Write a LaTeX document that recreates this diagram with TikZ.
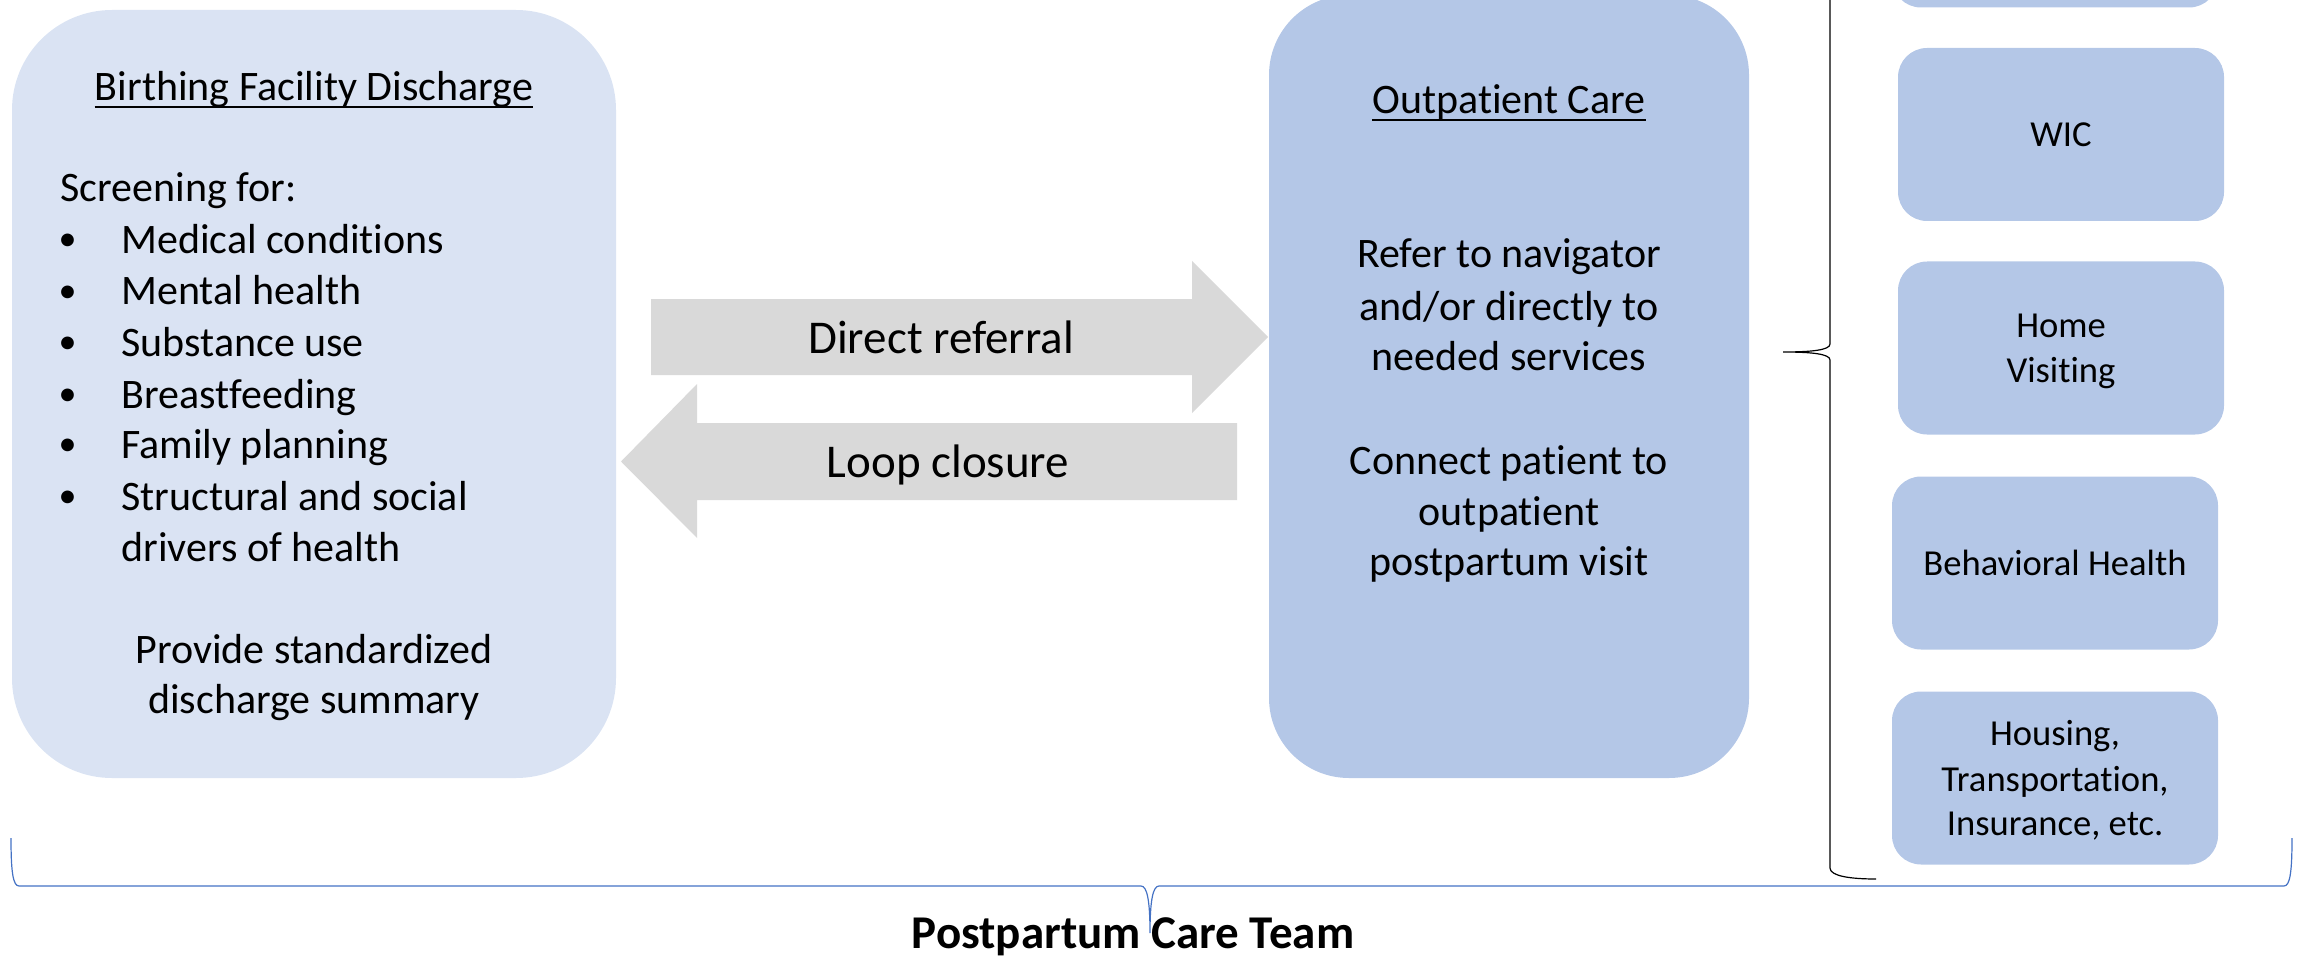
\documentclass[tikz,border=0pt]{standalone}
\usepackage{fontspec}
\setmainfont{Carlito}[Ligatures=NoCommon]
\definecolor{lightbox}{HTML}{DAE3F3}
\definecolor{medbox}{HTML}{B4C7E7}
\definecolor{arrowgray}{HTML}{D9D9D9}
\definecolor{braceblue}{HTML}{4472C4}
\begin{document}
\begin{tikzpicture}[x=0.5pt,y=-0.5pt,
  bigbox/.style={draw=none, fill=lightbox, rounded corners=50pt, inner sep=0, minimum width=302pt, minimum height=384pt},
  opbox/.style={draw=none, fill=medbox, rounded corners=40pt, inner sep=0, minimum width=240pt, minimum height=391.5pt},
  svcbox/.style={draw=none, fill=medbox, rounded corners=14.5pt, inner sep=0, minimum width=163pt, minimum height=86.5pt},
  blockarrow/.style={fill=arrowgray, draw=none},
  maintxt/.style={inner sep=0, anchor=base, font=\fontsize{21}{25.6}\selectfont},
  lefttxt/.style={maintxt, anchor=base west},
  bullettxt/.style={inner sep=0, anchor=base, font=\fontsize{18}{18}\selectfont},
  ulpen/.style={line width=1.2pt},
  arrtxt/.style={inner sep=0, anchor=base, font=\fontsize{23.5}{28}\selectfont},
  svctxt/.style={inner sep=0, anchor=base, font=\fontsize{18.3}{22}\selectfont},
  teamtxt/.style={inner sep=0, anchor=base, font=\fontsize{23.5}{28}\selectfont\bfseries},
  bracepen/.style={line width=0.6pt},
]
\useasboundingbox (0,0) rectangle (2301,957);
\clip (0,0) rectangle (2301,957);

% Birthing facility box
\node[bigbox] (bfd) at (314,394) {};
\node[maintxt] (bfdtitle) at (314,101) {Birthing Facility Discharge};
\draw[ulpen] ([yshift=-3pt]bfdtitle.base west) -- ([yshift=-3pt]bfdtitle.base east);
\node[lefttxt] (scr) at (60,201.5) {Screening for:};
\foreach \y/\t [count=\i] in {253.6/Medical conditions, 305/Mental health, 356/Substance use, 408/Breastfeeding, 458/Family planning, 510/Structural and social}{
  \node[bullettxt] (bul\i) at (67.5,\y-3) {•};
  \node[lefttxt] (item\i) at (121,\y) {\t};
}
\node[lefttxt] (item7) at (121,561) {drivers of health};
\node[maintxt] (prov1) at (314,663) {Provide standardized};
\node[maintxt] (prov2) at (314,713) {discharge summary};

% Outpatient box
\node[opbox] (opc) at (1509,386.5) {};
\node[maintxt] (opctitle) at (1509,114) {Outpatient Care};
\draw[ulpen] ([yshift=-3pt]opctitle.base west) -- ([yshift=-3pt]opctitle.base east);
\node[maintxt] (op1) at (1509,268) {Refer to navigator};
\node[maintxt] (op2) at (1509,320) {and/or directly to};
\node[maintxt] (op3) at (1509,370) {needed services};
\node[maintxt] (op4) at (1509,474) {Connect patient to};
\node[maintxt] (op5) at (1509,525) {outpatient};
\node[maintxt] (op6) at (1509,575) {postpartum visit};

% Block arrows
\path[blockarrow] (651,299) -- (1192,299) -- (1192,261) -- (1268,337) -- (1192,413) -- (1192,375) -- (651,375) -- cycle;
\node[arrtxt] (direct) at (941,353) {Direct referral};
\path[blockarrow] (1237,423) -- (697,423) -- (697,384) -- (621,461.5) -- (697,538) -- (697,500) -- (1237,500) -- cycle;
\node[arrtxt] (loop) at (948,477) {Loop closure};

% Service boxes
\node[svcbox] (svc0) at (2055,-79) {};
\node[svcbox] (wic) at (2061,134.5) {};
\node[svctxt] (wict) at (2061,147) {WIC};
\node[svcbox] (home) at (2061,348) {};
\node[svctxt] (homet1) at (2061,337) {Home};
\node[svctxt] (homet2) at (2061,382) {Visiting};
\node[svcbox] (beh) at (2055,563) {};
\node[svctxt] (beht) at (2055,575) {Behavioral Health};
\node[svcbox] (hous) at (2055,778) {};
\node[svctxt] (hous1) at (2055,745) {Housing,};
\node[svctxt] (hous2) at (2055,791) {Transportation,};
\node[svctxt] (hous3) at (2055,835) {Insurance, etc.};

% Right brace
\draw[bracepen, black] (1876,879) .. controls (1850,879) and (1830,876) .. (1830,868)
  -- (1830,360) .. controls (1830,354) and (1812,352) .. (1783,352)
  .. controls (1812,352) and (1830,350) .. (1830,344)
  -- (1830,-164) .. controls (1830,-172) and (1850,-175) .. (1876,-175);

% Bottom brace
\draw[bracepen, braceblue] (11,838) .. controls (11,872) and (13,886) .. (19,886)
  -- (1141,886) .. controls (1147,886) and (1150,900) .. (1150,933)
  .. controls (1150,900) and (1153,886) .. (1159,886)
  -- (2284,886) .. controls (2290,886) and (2292,872) .. (2292,838);
\node[teamtxt] (team) at (1133,948) {Postpartum Care Team};
\end{tikzpicture}
\end{document}
